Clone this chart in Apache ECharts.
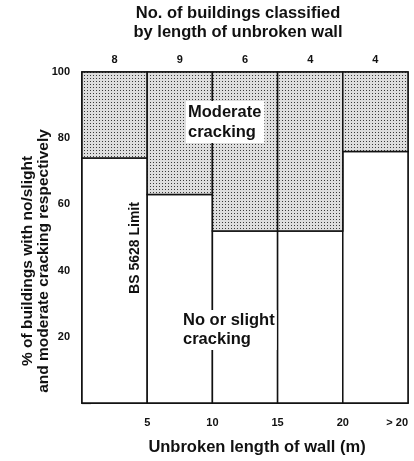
<!DOCTYPE html>
<html>
<head>
<meta charset="utf-8">
<script src="https://cdn.jsdelivr.net/npm/echarts@6/dist/echarts.min.js"></script>
<style>
html, body { margin: 0; padding: 0; background: #fff; }
#main { width: 414px; height: 461px; }
</style>
</head>
<body>
<div id="main"></div>
<script>
var binStart = [0, 5, 10, 15, 20];
var binEnd = [5, 10, 15, 20, 25];
var xTickLabels = {5: '5', 10: '10', 15: '15', 20: '20', 25: '> 20'};
var buildingCounts = ['8', '9', '6', '4', '4'];
var noSlight = [74, 63, 52, 52, 76];

var FONT = '"Liberation Sans", Arial, sans-serif';

// stipple pattern for moderate cracking
var pat = document.createElement('canvas');
pat.width = 3; pat.height = 3;
var pc = pat.getContext('2d');
pc.fillStyle = '#dedede';
pc.fillRect(0, 0, 3, 3);
pc.fillStyle = '#3a3a3a';
pc.fillRect(0, 0, 1, 1);

var lowData = [], highData = [];
for (var i = 0; i < binStart.length; i++) {
    lowData.push([binStart[i], binEnd[i], 0, noSlight[i]]);
    highData.push([binStart[i], binEnd[i], noSlight[i], 100]);
}

function makeRender(fill) {
    return function (params, api) {
        var a = api.coord([api.value(0), api.value(2)]);
        var b = api.coord([api.value(1), api.value(3)]);
        return {
            type: 'rect',
            shape: {x: a[0], y: b[1], width: b[0] - a[0], height: a[1] - b[1]},
            style: {fill: fill, stroke: '#111', lineWidth: 1.5}
        };
    };
}

var myChart = echarts.init(document.getElementById('main'));
var option = {
    backgroundColor: '#fff',
    animation: false,
    grid: {left: 82, right: 6, top: 72, bottom: 58, containLabel: false, outerBoundsMode: 'none',
        show: true, borderColor: '#111', borderWidth: 1.5},
    xAxis: [{
        type: 'value', min: 0, max: 25, interval: 5, position: 'bottom',
        axisLine: {show: true, lineStyle: {color: '#111', width: 1.5}},
        axisTick: {show: false},
        splitLine: {show: false},
        axisLabel: {
            margin: 14, color: '#111', fontFamily: FONT, fontWeight: 'bold', fontSize: 11,
            alignMaxLabel: 'right',
            formatter: function (v) { return xTickLabels[v] || ''; }
        }
    }, {
        type: 'category', position: 'top', data: buildingCounts,
        axisLine: {show: false}, axisTick: {show: false},
        axisLabel: {margin: 7, color: '#111', fontFamily: FONT, fontWeight: 'bold', fontSize: 11}
    }],
    yAxis: {
        type: 'value', min: 0, max: 100, interval: 20,
        axisLine: {show: true, lineStyle: {color: '#111', width: 1.5}},
        axisTick: {show: true, inside: true, length: 9, lineStyle: {color: '#111', width: 1.2}},
        splitLine: {show: false},
        axisLabel: {
            margin: 12, color: '#111', fontFamily: FONT, fontWeight: 'bold', fontSize: 11,
            formatter: function (v) { return v === 0 ? '' : v; }
        }
    },
    series: [
        {type: 'custom', xAxisIndex: 0, renderItem: makeRender('#fff'), data: lowData, encode: {x: [0, 1], y: [2, 3]}},
        {type: 'custom', xAxisIndex: 0, renderItem: makeRender({image: pat, repeat: 'repeat'}), data: highData, encode: {x: [0, 1], y: [2, 3]}}
    ],
    graphic: [
        {type: 'text', x: 238, y: 23, z: 100, style: {
            text: 'No. of buildings classified\nby length of unbroken wall', textAlign: 'center', textVerticalAlign: 'middle',
            font: 'bold 16.5px ' + FONT, lineHeight: 19, fill: '#111'}},
        {type: 'text', x: 257, y: 447, z: 100, style: {
            text: 'Unbroken length of wall (m)', textAlign: 'center', textVerticalAlign: 'middle',
            font: 'bold 16.5px ' + FONT, fill: '#111'}},
        {type: 'text', x: 36, y: 261, rotation: Math.PI / 2, z: 100, style: {
            text: '% of buildings with no/slight\nand moderate cracking respectively', textAlign: 'center', textVerticalAlign: 'middle',
            font: 'bold 15.5px ' + FONT, lineHeight: 16, fill: '#111'}},
        {type: 'text', x: 135, y: 248, rotation: Math.PI / 2, z: 100, style: {
            text: 'BS 5628 Limit', textAlign: 'center', textVerticalAlign: 'middle',
            font: 'bold 14px ' + FONT, fill: '#111'}},
        {type: 'text', x: 186, y: 101, z: 100, style: {
            text: 'Moderate\ncracking', textAlign: 'left', textVerticalAlign: 'top',
            font: 'bold 16.5px ' + FONT, lineHeight: 20, fill: '#111',
            backgroundColor: '#fff', padding: [1, 3, 1, 2]}},
        {type: 'text', x: 182, y: 310, z: 100, style: {
            text: 'No or slight\ncracking', textAlign: 'left', textVerticalAlign: 'top',
            font: 'bold 16.5px ' + FONT, lineHeight: 19, fill: '#111',
            backgroundColor: '#fff', padding: [1, 2, 1, 1]}}
    ]
};
myChart.setOption(option);
</script>
</body>
</html>
